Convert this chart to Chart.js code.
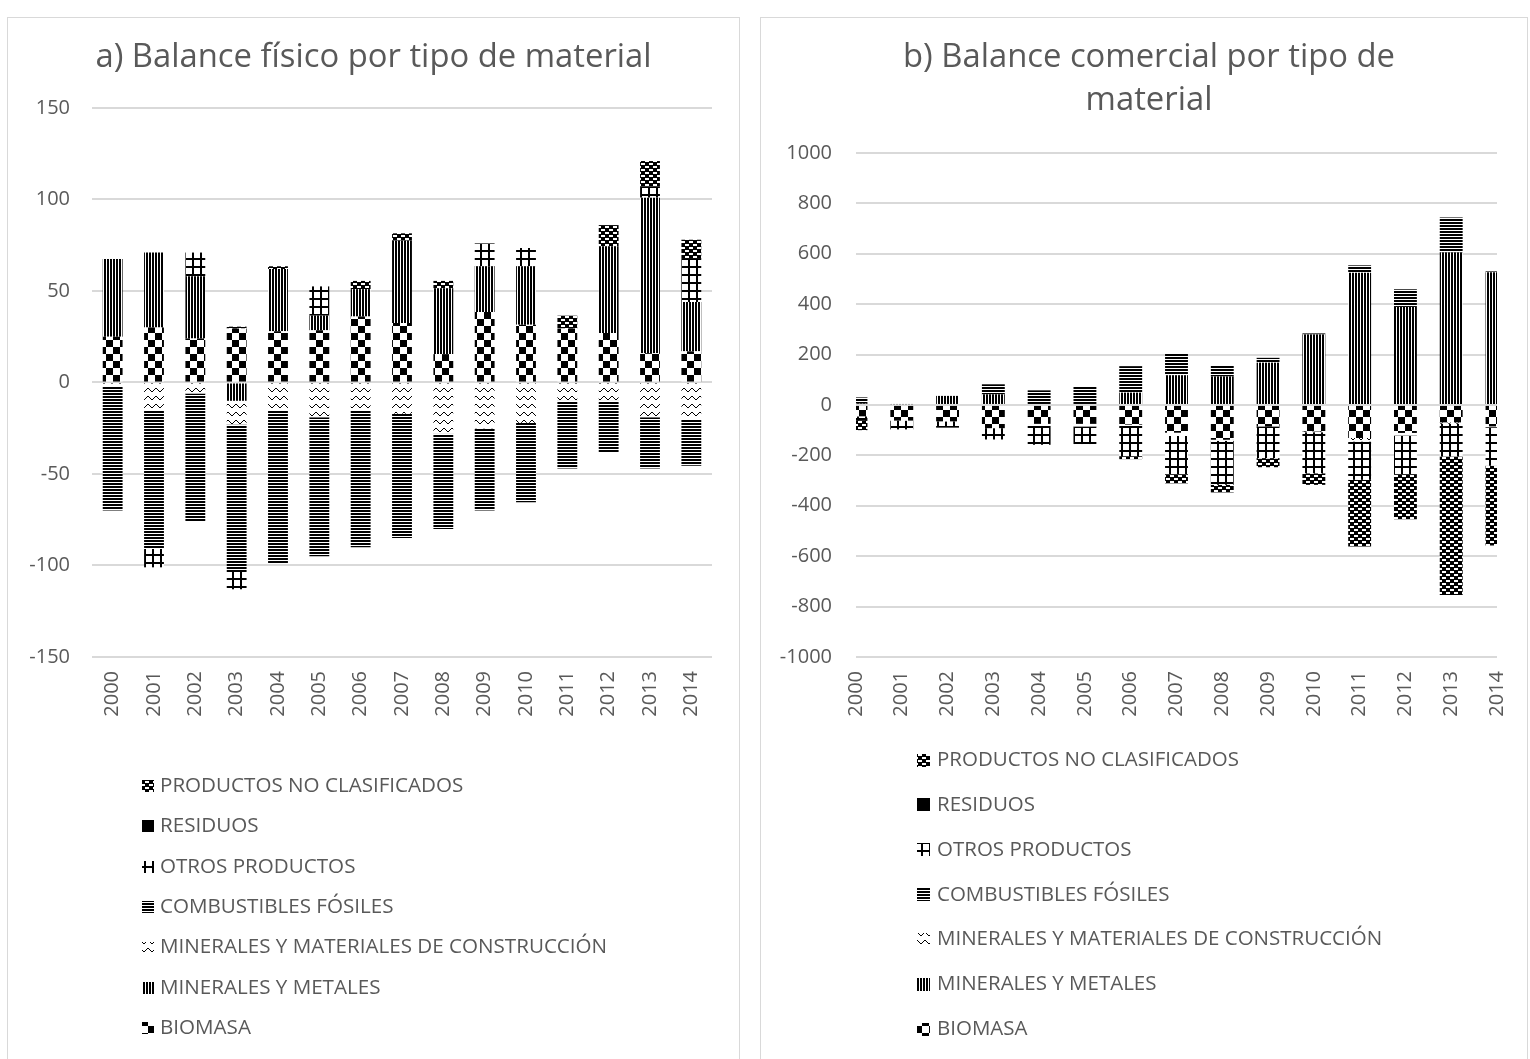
<!DOCTYPE html>
<html>
<head>
<meta charset="utf-8">
<script src="https://cdn.jsdelivr.net/npm/chart.js@4"></script>
<style>
  html, body { margin: 0; padding: 0; background: #fff; overflow: hidden; }
  body { width: 1530px; height: 1059px; position: relative; }
  .panel { position: absolute; top: 17px; height: 1060px; border: 1px solid #d9d9d9; box-sizing: border-box; background: #fff; }
  #panelA { left: 7px; width: 733px; }
  #panelB { left: 760px; width: 768px; }
</style>
</head>
<body>
<div class="panel" id="panelA"><canvas id="chartA"></canvas></div>
<div class="panel" id="panelB"><canvas id="chartB"></canvas></div>
<script>
const years = ["2000", "2001", "2002", "2003", "2004", "2005", "2006", "2007", "2008", "2009", "2010", "2011", "2012", "2013", "2014"];
const materials = ["BIOMASA", "MINERALES Y METALES", "MINERALES Y MATERIALES DE CONSTRUCCIÓN", "COMBUSTIBLES FÓSILES", "OTROS PRODUCTOS", "RESIDUOS", "PRODUCTOS NO CLASIFICADOS"];

// a) balance físico
const fisBiomasa   = [25, 30, 24, 29.5, 28, 28.5, 36, 32.5, 15.5, 38.5, 31.5, 29.5, 27, 16, 17];
const fisMetales   = [42.5, 41, 34, -10, 34, 8, 15, 45, 36, 25, 32, 0, 47.5, 85, 27];
const fisConstr    = [-2, -15, -6, -13, -15, -19, -15, -17, -28, -25, -22, -10, -10, -19, -20.5];
const fisFosiles   = [-68, -76, -70, -80, -84, -76, -75, -68, -52, -45, -43.5, -37, -28, -28, -25];
const fisOtros     = [0, -10, 13, -10, 0, 16, 0, 0, 0, 12.5, 10, 0, 0, 6, 23.5];
const fisResiduos  = [0, 0, 0, 0, 0, 0, 0, 0, 0, 0, 0, 0, 0, 0, 0];
const fisNoClasif  = [0, 0, 0, 1, 1.5, 0, 4.5, 4, 4, 0, 0, 7, 11.5, 14, 10.5];

// b) balance comercial
const comBiomasa   = [-45, -62, -65, -92, -75, -75, -78, -110, -138, -85, -105, -131, -111, -69, -85];
const comMetales   = [5, 3, 36, 42, 0, 0, 49, 118, 113, 168, 280, 525, 389, 605, 527];
const comConstr    = [0, 0, 0, 0, -8, -10, -5, -13, -4, 0, -3, -14, -10, -5, -3];
const comFosiles   = [25, 0, 0, 40, 58, 75, 105, 87, 45, 19, 4, 29, 70, 139, 3];
const comOtros     = [-15, -35, -25, -45, -75, -70, -120, -152, -175, -126, -163, -152, -156, -130, -153];
const comResiduos  = [0, 0, 0, 0, 0, 0, 0, 0, 0, 0, 0, 0, 0, 0, 0];
const comNoClasif  = [-40, 0, 0, 0, 0, 0, -12, -36, -30, -36, -46, -265, -176, -550, -317];

const TEXT = "#595959";
Chart.defaults.font.family = '"Open Sans", sans-serif';
Chart.defaults.color = TEXT;

// black & white fills, one small tile per material
function makePattern(w, h, draw) {
  const tile = document.createElement("canvas");
  tile.width = w;
  tile.height = h;
  const g = tile.getContext("2d");
  g.fillStyle = "#fff";
  g.fillRect(0, 0, w, h);
  g.fillStyle = "#000";
  draw(g);
  return g.createPattern(tile, "repeat");
}

const fills = [
  makePattern(14, 14, g => { g.fillRect(0, 0, 7, 7); g.fillRect(7, 7, 7, 7); }),
  makePattern(3, 3, g => g.fillRect(0, 0, 2, 3)),
  makePattern(8, 8, g => {
    [[0, 5], [1, 4], [2, 3], [3, 2], [4, 2], [5, 3], [6, 4], [7, 5]].forEach(p => g.fillRect(p[0], p[1], 1, 1));
  }),
  makePattern(3, 3, g => g.fillRect(0, 0, 3, 2)),
  makePattern(8, 8, g => { g.fillRect(0, 0, 8, 2); g.fillRect(0, 0, 2, 8); }),
  "#000",
  makePattern(8, 6, g => {
    g.fillRect(0, 0, 8, 6);
    g.fillStyle = "#fff";
    g.fillRect(1, 1, 4, 2);
    g.fillRect(5, 4, 3, 2);
    g.fillRect(0, 4, 1, 2);
  })
];

function buildSets(series) {
  return series.map((values, i) => ({
    label: materials[i],
    data: values,
    backgroundColor: fills[i],
    borderWidth: 0,
    clip: 0
  }));
}

// legend drawn as a single column under the axis labels, last series first
const stackLegend = {
  id: "stackLegend",
  afterDraw(chart, args, opts) {
    const ctx = chart.ctx;
    const sets = chart.data.datasets.slice().reverse();
    ctx.save();
    ctx.font = opts.font;
    ctx.textBaseline = "middle";
    ctx.textAlign = "left";
    sets.forEach((ds, i) => {
      const y = opts.top + i * opts.gap;
      ctx.fillStyle = ds.backgroundColor;
      ctx.fillRect(opts.left, Math.round(y - opts.box / 2), opts.box, opts.box);
      ctx.fillStyle = TEXT;
      ctx.fillText(ds.label, opts.textLeft, y);
    });
    ctx.restore();
  }
};

function makeChart(id, cfg) {
  return new Chart(document.getElementById(id), {
    type: "bar",
    data: { labels: years, datasets: buildSets(cfg.series) },
    plugins: [stackLegend],
    options: {
      responsive: true,
      maintainAspectRatio: false,
      animation: false,
      categoryPercentage: 1,
      barPercentage: cfg.barPct,
      layout: { padding: { left: cfg.padLeft, right: 0, top: 0, bottom: cfg.padBottom } },
      plugins: {
        legend: { display: false },
        tooltip: { enabled: false },
        title: {
          display: true,
          text: cfg.title,
          color: TEXT,
          font: { size: 32.8, weight: "normal", lineHeight: 1.31 },
          padding: { top: 18, bottom: cfg.titleGap }
        },
        stackLegend: cfg.legend
      },
      scales: {
        x: {
          stacked: true,
          offset: cfg.offset,
          grid: { display: false },
          border: { display: false },
          ticks: { autoSkip: false, maxRotation: 90, minRotation: 90, padding: 6, font: { size: 20 } },
          afterFit: axis => { axis.height = 60; }
        },
        y: {
          stacked: true,
          min: cfg.min,
          max: cfg.max,
          grid: { color: "#d9d9d9", lineWidth: 2, drawTicks: false },
          border: { display: false },
          ticks: {
            stepSize: cfg.step,
            padding: cfg.tickPad,
            font: { size: 20 },
            callback: value => String(value)
          },
          afterFit: axis => { axis.width = cfg.axisWidth; }
        },
        // empty margin on the right so the title stays centred on the panel
        yRight: {
          type: "linear",
          position: "right",
          grid: { display: false },
          border: { display: false },
          ticks: { display: false },
          afterFit: axis => { axis.width = cfg.rightGap; }
        }
      }
    }
  });
}

makeChart("chartA", {
  series: [fisBiomasa, fisMetales, fisConstr, fisFosiles, fisOtros, fisResiduos, fisNoClasif],
  title: "a) Balance físico por tipo de material",
  titleGap: 29,
  min: -150, max: 150, step: 50,
  padLeft: 0, axisWidth: 84, tickPad: 22,
  rightGap: 27, padBottom: 359,
  offset: true, barPct: 0.48,
  legend: { left: 134, textLeft: 152, top: 768, gap: 40.4, box: 12, font: '20.6px "Open Sans", sans-serif' }
});

makeChart("chartB", {
  series: [comBiomasa, comMetales, comConstr, comFosiles, comOtros, comResiduos, comNoClasif],
  title: ["b) Balance comercial por tipo de", "material"],
  titleGap: 31,
  min: -1000, max: 1000, step: 200,
  padLeft: 10, axisWidth: 85, tickPad: 24,
  rightGap: 25, padBottom: 359,
  offset: false, barPct: 0.5,
  legend: { left: 156, textLeft: 176, top: 742, gap: 44.9, box: 13, font: '20.5px "Open Sans", sans-serif' }
});
</script>
</body>
</html>
